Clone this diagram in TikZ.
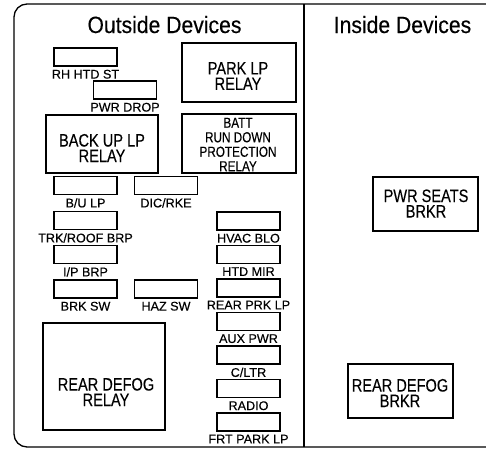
\documentclass[tikz,border=0pt]{standalone}
\usepackage{fontspec}
\setmainfont{Liberation Sans}[FakeBold=0.3]
\newfontfamily\titlefont{Liberation Sans}[FakeStretch=0.9, FakeBold=0.3]
\newfontfamily\relayfont{Liberation Sans}[FakeStretch=0.81, FakeBold=0.3]
\usetikzlibrary{positioning}

\tikzset{
  fuse/.style={draw, line width=1.1pt, minimum width=63pt, minimum height=18pt, inner sep=0pt},
  fuselabel/.style={inner sep=0pt, anchor=north, font=\fontsize{12.6}{13}\selectfont},
  relaybox/.style={draw, line width=1.1pt, inner sep=0pt},
  relaytext/.style={inner sep=0pt, align=center, font=\relayfont\fontsize{18}{15.5}\selectfont},
  heading/.style={inner sep=0pt, anchor=base, font=\titlefont\fontsize{23.5}{24}\selectfont}
}

\begin{document}
\begin{tikzpicture}[x=1pt, y=-1pt]
\useasboundingbox (0,0) rectangle (486,450);
% housing and divider
\draw[line width=1.3pt, rounded corners=13pt] (487,4) -- (14,4) -- (14,447) -- (487,447);
\draw[line width=1.3pt] (304,4) -- (304,447);
\node[heading] (outside) at (164.5,33) {Outside Devices};
\node[heading] (inside) at (402.5,33) {Inside Devices};
% fuses, left part
\foreach \n/\x/\y/\lab in {rhhtd/85.5/57/{RH HTD ST}, pwrdrop/125/90/{PWR DROP},
    bulp/85.5/185.5/{B/U LP}, dicrke/166/185.5/{DIC/RKE}, trk/85.5/220.5/{TRK/ROOF BRP},
    ipbrp/85.5/254.5/{I/P BRP}, brksw/85.5/289/{BRK SW}, hazsw/166/289/{HAZ SW}}
  {\node[fuse] (\n) at (\x,\y) {};
   \node[fuselabel, below=3pt of \n] (\n-l) {\lab};}
% fuses, right column
\foreach \n/\lab [count=\i from 0] in {hvac/{HVAC BLO}, htdmir/{HTD MIR}, rearprk/{REAR PRK LP},
    auxpwr/{AUX PWR}, cltr/{C/LTR}, radio/{RADIO}, frtpark/{FRT PARK LP}}
  {\node[fuse] (\n) at (248.5,221+33.5*\i) {};
   \node[fuselabel, below=3pt of \n] (\n-l) {\lab};}
% relays and breakers
\foreach \n/\x/\y/\w/\h/\tx/\ty/\txt in {park/239/72.5/114/59/238/76/{PARK LP\\RELAY},
    backup/102/144/112/58/102/148/{BACK UP LP\\RELAY},
    defog/104/376.5/122/107/106/392/{REAR DEFOG\\RELAY},
    seats/425.5/204/105/54/426/203.5/{PWR SEATS\\BRKR},
    defogbrkr/400.5/391/105/54/400/393/{REAR DEFOG\\BRKR}}
  {\node[relaybox, minimum width=\w, minimum height=\h] (\n) at (\x,\y) {};
   \node[relaytext] (\n-t) at (\tx,\ty) {\txt};}
\node[relaybox, minimum width=114, minimum height=59] (batt) at (239,143.5) {};
\node[relaytext, font=\relayfont\fontsize{14.5}{14.5}\selectfont] (batt-t) at (238,144.5)
  {BATT\\RUN DOWN\\PROTECTION\\RELAY};
\end{tikzpicture}
\end{document}
